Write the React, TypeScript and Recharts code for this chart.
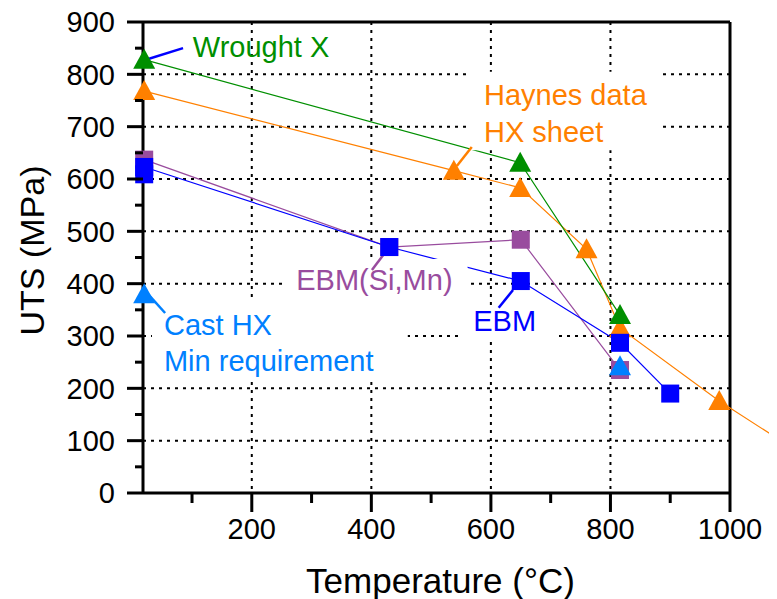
import React from "react";
import {
  CartesianGrid,
  ComposedChart,
  Line,
  ReferenceArea,
  ReferenceLine,
  XAxis,
  YAxis
} from "recharts";

const FONT = '"Liberation Sans", Arial, Helvetica, sans-serif';

const GREEN = "#008f00";
const ORANGE = "#ff8000";
const BLUE = "#0000ff";
const PURPLE = "#994c9e";
const SKY = "#0080ff";

// UTS (MPa) vs test temperature (°C)
const wroughtX = [
  { t: 20, uts: 828 },
  { t: 649, uts: 631 },
  { t: 816, uts: 340 }
];

const haynesSheet = [
  { t: 20, uts: 768 },
  { t: 538, uts: 616 },
  { t: 649, uts: 583 },
  { t: 760, uts: 466 },
  { t: 816, uts: 315 },
  { t: 982, uts: 176 },
  { t: 1093, uts: 94 }
];

const ebmSiMn = [
  { t: 20, uts: 637 },
  { t: 430, uts: 470 },
  { t: 650, uts: 484 },
  { t: 816, uts: 235 }
];

const ebm = [
  { t: 20, uts: 609 },
  { t: 20, uts: 623 },
  { t: 430, uts: 470 },
  { t: 650, uts: 405 },
  { t: 816, uts: 287 },
  { t: 900, uts: 190 }
];

const castMin = [
  { t: 20, uts: 380 },
  { t: 816, uts: 242 }
];

const tempTicks = [100, 200, 300, 400, 500, 600, 700, 800, 900, 1000];
const utsTicks = [0, 50, 100, 150, 200, 250, 300, 350, 400, 450, 500, 550, 600, 650, 700, 750, 800, 850, 900];
const gridTemps = [200, 400, 600, 800, 1000];
const gridUts = [100, 200, 300, 400, 500, 600, 700, 800];

// text boxes, in data units
const notes = [
  { lines: ["Wrought X"], color: GREEN, fill: "none", x1: 88, x2: 347, y1: 820, y2: 885, padX: 8, baseY: 27, gap: 0 },
  { lines: ["Haynes data", "HX sheet"], color: ORANGE, fill: "#fff", x1: 565, x2: 886, y1: 655, y2: 805, padX: 14, baseY: 33, gap: 37 },
  { lines: ["EBM(Si,Mn)"], color: PURPLE, fill: "#fff", x1: 256, x2: 561, y1: 373, y2: 447, padX: 11, baseY: 31, gap: 0 },
  { lines: ["EBM"], color: BLUE, fill: "#fff", x1: 552, x2: 707, y1: 289, y2: 358, padX: 11, baseY: 25, gap: 0 },
  { lines: ["Cast HX", "Min requirement"], color: SKY, fill: "#fff", x1: 33, x2: 461, y1: 212, y2: 365, padX: 12, baseY: 33, gap: 36 }
];

const leaders = [
  { color: BLUE, from: { x: 20, y: 827 }, to: { x: 85, y: 850 } },
  { color: ORANGE, from: { x: 543, y: 625 }, to: { x: 568, y: 661 } },
  { color: PURPLE, from: { x: 426, y: 464 }, to: { x: 401, y: 426 } },
  { color: BLUE, from: { x: 637, y: 388 }, to: { x: 613, y: 354 } },
  { color: SKY, from: { x: 25, y: 382 }, to: { x: 55, y: 344 } }
];

const triangle = (fill: string) => (p: any) => {
  const { cx, cy, index } = p;
  if (cx == null || cy == null) return <g key={index} />;
  return (
    <path
      key={index}
      d={`M${cx},${cy - 11}L${cx + 11},${cy + 9}L${cx - 11},${cy + 9}Z`}
      fill={fill}
    />
  );
};

const square = (fill: string) => (p: any) => {
  const { cx, cy, index } = p;
  if (cx == null || cy == null) return <g key={index} />;
  return <rect key={index} x={cx - 9} y={cy - 9} width={18} height={18} fill={fill} />;
};

function NoteText(props: any) {
  const vb = props.viewBox;
  if (!vb) return null;
  return (
    <text fill={props.color} fontSize={29} fontFamily={FONT}>
      {props.lines.map((line: string, i: number) => (
        <tspan key={i} x={vb.x + props.padX} y={vb.y + props.baseY + i * props.gap}>
          {line}
        </tspan>
      ))}
    </text>
  );
}

function YTick(props: any) {
  const { x, y, payload } = props;
  const major = payload.value % 100 === 0;
  return (
    <g>
      <line x1={x - (major ? 16 : 8)} x2={x} y1={y} y2={y} stroke="#000" strokeWidth={3} />
      {major && (
        <text x={x - 28} y={y} dy="0.36em" textAnchor="end" fontSize={29} fontFamily={FONT} fill="#000">
          {payload.value}
        </text>
      )}
    </g>
  );
}

function XTick(props: any) {
  const { x, y, payload } = props;
  const major = payload.value % 200 === 0;
  return (
    <g>
      <line x1={x} x2={x} y1={y} y2={y + (major ? 19 : 10)} stroke="#000" strokeWidth={3} />
      {major && (
        <text x={x} y={y + 46} textAnchor="middle" fontSize={29} fontFamily={FONT} fill="#000">
          {payload.value}
        </text>
      )}
    </g>
  );
}

function XTitle(props: any) {
  const vb = props.viewBox;
  if (!vb) return null;
  return (
    <text x={vb.x + vb.width / 2 + 4} y={vb.y + vb.height} textAnchor="middle" fontSize={35} fontFamily={FONT} fill="#000">
      Temperature (°C)
    </text>
  );
}

function YTitle(props: any) {
  const vb = props.viewBox;
  if (!vb) return null;
  const cx = vb.x + 1;
  const cy = vb.y + vb.height / 2 - 7;
  return (
    <text x={cx} y={cy} transform={`rotate(-90 ${cx} ${cy})`} textAnchor="middle" fontSize={34} fontFamily={FONT} fill="#000">
      UTS (MPa)
    </text>
  );
}

export default function App() {
  return (
    <div style={{ fontFamily: FONT, margin: "-8px 0 0 -8px", width: 777, height: 599 }}>
      {/* markers sit on the axis and the Haynes line runs past 1000 °C, so no clipping */}
      <style>{`.recharts-surface [clip-path], .recharts-surface g, .recharts-surface path { clip-path: none !important; }`}</style>
      <ComposedChart width={777} height={599} margin={{ top: 22, right: 47, bottom: 6, left: 43 }}>
        <CartesianGrid
          stroke="#000"
          strokeWidth={2}
          strokeDasharray="3 5"
          horizontalValues={gridUts}
          verticalValues={gridTemps}
        />
        <XAxis
          dataKey="t"
          type="number"
          domain={[18, 1000]}
          allowDataOverflow
          ticks={tempTicks}
          interval={0}
          height={100}
          tickSize={0}
          tickMargin={0}
          tickLine={false}
          axisLine={{ stroke: "#000", strokeWidth: 3 }}
          tick={<XTick />}
          label={<XTitle />}
        />
        <YAxis
          type="number"
          domain={[0, 900]}
          ticks={utsTicks}
          interval={0}
          width={100}
          tickSize={0}
          tickMargin={0}
          tickLine={false}
          axisLine={{ stroke: "#000", strokeWidth: 3 }}
          tick={<YTick />}
          label={<YTitle />}
        />
        <ReferenceLine y={900} stroke="#000" strokeWidth={3} />
        <ReferenceLine x={1000} stroke="#000" strokeWidth={3} />

        <Line data={ebmSiMn} dataKey="uts" type="linear" stroke={PURPLE} strokeWidth={1.2} dot={square(PURPLE)} activeDot={false} isAnimationActive={false} />
        <Line data={haynesSheet} dataKey="uts" type="linear" stroke={ORANGE} strokeWidth={1.2} dot={triangle(ORANGE)} activeDot={false} isAnimationActive={false} />
        <Line data={wroughtX} dataKey="uts" type="linear" stroke={GREEN} strokeWidth={1.2} dot={triangle(GREEN)} activeDot={false} isAnimationActive={false} />
        <Line data={ebm} dataKey="uts" type="linear" stroke={BLUE} strokeWidth={1.2} dot={square(BLUE)} activeDot={false} isAnimationActive={false} />
        <Line data={castMin} dataKey="uts" type="linear" stroke="none" dot={triangle(SKY)} activeDot={false} isAnimationActive={false} />

        {notes.map((n, i) => (
          <ReferenceArea
            key={`note-${i}`}
            x1={n.x1}
            x2={n.x2}
            y1={n.y1}
            y2={n.y2}
            fill={n.fill}
            fillOpacity={1}
            stroke="none"
            zIndex={450}
            label={<NoteText lines={n.lines} color={n.color} padX={n.padX} baseY={n.baseY} gap={n.gap} />}
          />
        ))}
        {leaders.map((l, i) => (
          <ReferenceLine key={`lead-${i}`} segment={[l.from, l.to]} stroke={l.color} strokeWidth={2.5} zIndex={460} />
        ))}
      </ComposedChart>
    </div>
  );
}
